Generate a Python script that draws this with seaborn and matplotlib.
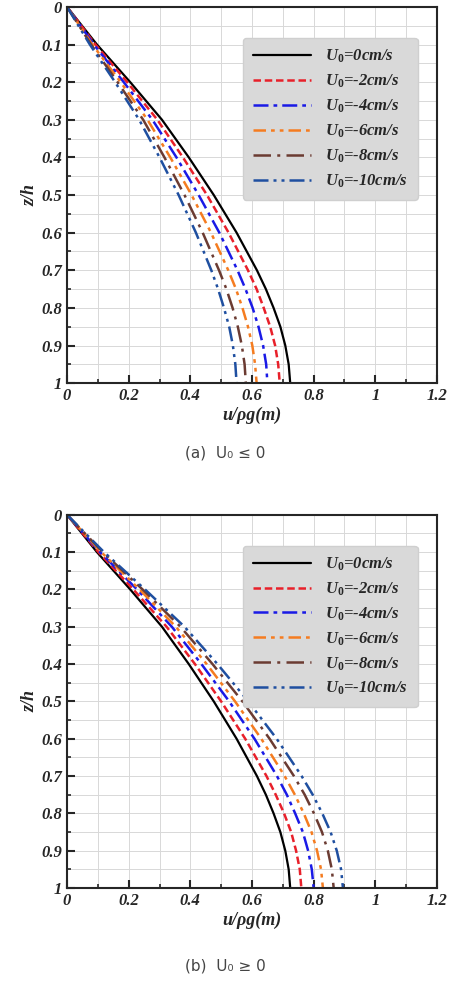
import matplotlib
matplotlib.use('Agg')
import matplotlib.pyplot as plt
import seaborn as sns
import pandas as pd
from matplotlib.ticker import MultipleLocator

sns.set_style('ticks')
plt.rcParams['font.family'] = ['Liberation Serif', 'DejaVu Serif']
plt.rcParams['mathtext.fontset'] = 'custom'
plt.rcParams['mathtext.it'] = 'Liberation Serif:italic:bold'
plt.rcParams['mathtext.rm'] = 'Liberation Serif:bold'

z = [0, 0.1, 0.2, 0.3, 0.4, 0.5, 0.6, 0.7, 0.75, 0.8, 0.85, 0.9, 0.95, 1.0]
labels = ['0', '-2', '-4', '-6', '-8', '-10']

# panel (a) U0 <= 0
u_a = {
    '0':   [0, 0.097, 0.205, 0.308, 0.395, 0.476, 0.550, 0.616, 0.645, 0.670, 0.692, 0.708, 0.719, 0.724],
    '-2':  [0, 0.092, 0.195, 0.293, 0.376, 0.454, 0.524, 0.587, 0.615, 0.638, 0.659, 0.675, 0.685, 0.690],
    '-4':  [0, 0.087, 0.184, 0.277, 0.355, 0.427, 0.494, 0.553, 0.579, 0.602, 0.621, 0.636, 0.646, 0.650],
    '-6':  [0, 0.082, 0.174, 0.261, 0.335, 0.404, 0.467, 0.523, 0.548, 0.569, 0.587, 0.601, 0.610, 0.615],
    '-8':  [0, 0.078, 0.164, 0.247, 0.316, 0.381, 0.440, 0.493, 0.517, 0.537, 0.554, 0.567, 0.576, 0.580],
    '-10': [0, 0.074, 0.156, 0.234, 0.300, 0.362, 0.418, 0.468, 0.490, 0.509, 0.526, 0.538, 0.546, 0.550],
}
# panel (b) U0 >= 0
u_b = {
    '0':   [0, 0.097, 0.205, 0.308, 0.395, 0.476, 0.550, 0.616, 0.645, 0.670, 0.692, 0.708, 0.719, 0.724],
    '-2':  [0, 0.102, 0.215, 0.323, 0.415, 0.500, 0.578, 0.647, 0.677, 0.704, 0.727, 0.743, 0.755, 0.760],
    '-4':  [0, 0.107, 0.227, 0.340, 0.436, 0.526, 0.608, 0.681, 0.713, 0.740, 0.765, 0.782, 0.794, 0.800],
    '-6':  [0, 0.111, 0.235, 0.353, 0.453, 0.545, 0.630, 0.706, 0.739, 0.768, 0.793, 0.811, 0.824, 0.830],
    '-8':  [0, 0.116, 0.245, 0.368, 0.472, 0.569, 0.657, 0.736, 0.771, 0.801, 0.827, 0.846, 0.859, 0.865],
    '-10': [0, 0.120, 0.253, 0.381, 0.488, 0.588, 0.680, 0.761, 0.797, 0.828, 0.855, 0.875, 0.889, 0.895],
}

colors = ['black', '#e8202a', '#1a1ae6', '#f57c20', '#6b3b32', '#1f4fa0']
dashes = ['-', (0, (3, 1.5)), (0, (6, 2, 1.5, 2)), (0, (5, 2, 1.5, 2, 1.5, 2)),
          (0, (7, 2.5, 1.2, 2.5)), (0, (6, 2, 1.2, 2, 1.2, 2))]

fig = plt.figure(figsize=(4.5, 9.9), dpi=100)
ax_a = fig.add_axes([0.149, 0.613, 0.822, 0.380])
ax_b = fig.add_axes([0.149, 0.103, 0.822, 0.377])

def draw(ax, data):
    for i, lab in enumerate(labels):
        df = pd.DataFrame({'u': data[lab], 'z': z})
        sns.lineplot(data=df, x='u', y='z', ax=ax, color=colors[i], lw=1.8 if i else 1.6,
                     linestyle=dashes[i], sort=False, estimator=None,
                     label='$U_0$=' + lab + 'cm/s')
    ax.set_xlim(0, 1.2)
    ax.set_ylim(1, 0)
    ax.xaxis.set_minor_locator(MultipleLocator(0.1))
    ax.yaxis.set_minor_locator(MultipleLocator(0.05))
    ax.set_xticks([0, 0.2, 0.4, 0.6, 0.8, 1.0, 1.2])
    ax.set_xticklabels(['0', '0.2', '0.4', '0.6', '0.8', '1', '1.2'])
    ax.set_yticks([0, 0.1, 0.2, 0.3, 0.4, 0.5, 0.6, 0.7, 0.8, 0.9, 1.0])
    ax.set_yticklabels(['0', '0.1', '0.2', '0.3', '0.4', '0.5', '0.6', '0.7', '0.8', '0.9', '1'])
    ax.grid(which='both', color='#d8d8d8', lw=0.7)
    ax.tick_params(which='major', direction='in', length=6, width=1.5, labelsize=12)
    ax.tick_params(which='minor', direction='in', length=3, width=1.2)
    for lbl in ax.get_xticklabels() + ax.get_yticklabels():
        lbl.set_fontweight('bold')
        lbl.set_fontstyle('italic')
    for s in ax.spines.values():
        s.set_linewidth(1.5)
    ax.set_xlabel('u/ρg(m)', fontsize=13, fontweight='bold', fontstyle='italic', labelpad=2)
    ax.set_ylabel('z/h', fontsize=13, fontweight='bold', fontstyle='italic', labelpad=2)
    ax.legend(loc='upper right', bbox_to_anchor=(0.97, 0.94), fancybox=True,
              facecolor='#d9d9d9', edgecolor='#cfcfcf', framealpha=1,
              prop={'weight': 'bold', 'style': 'italic', 'size': 12},
              handlelength=3.5, labelspacing=0.45, borderpad=0.6)

draw(ax_a, u_a)
draw(ax_b, u_b)

fig.text(0.5, 1 - 453 / 990, '(a)  U₀ ≤ 0', ha='center', va='center',
         fontsize=11, color='#444444', family=['DejaVu Sans'])
fig.text(0.5, 1 - 966 / 990, '(b)  U₀ ≥ 0', ha='center', va='center',
         fontsize=11, color='#444444', family=['DejaVu Sans'])

fig.savefig('out.png', dpi=100)
